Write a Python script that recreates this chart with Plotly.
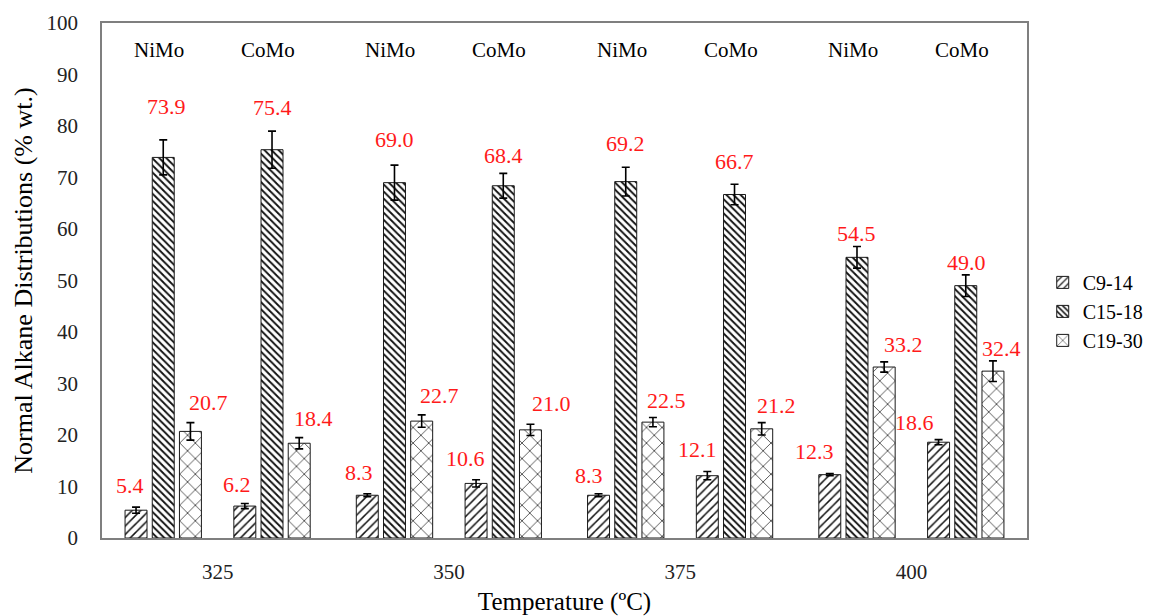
import plotly.graph_objects as go

# Reaction temperatures and catalysts
temperatures = ["325", "350", "375", "400"]
catalysts = ["NiMo", "CoMo"]
fractions = ["C9-14", "C15-18", "C19-30"]

# Mean values (% wt.), ordered 325 NiMo, 325 CoMo, 350 NiMo, 350 CoMo, ...
c9_14 = [5.4, 6.2, 8.3, 10.6, 8.3, 12.1, 12.3, 18.6]
c15_18 = [73.9, 75.4, 69.0, 68.4, 69.2, 66.7, 54.5, 49.0]
c19_30 = [20.7, 18.4, 22.7, 21.0, 22.5, 21.2, 33.2, 32.4]

# Standard deviations
c9_14_err = [0.6, 0.5, 0.3, 0.7, 0.3, 0.8, 0.2, 0.5]
c15_18_err = [3.4, 3.6, 3.4, 2.4, 2.8, 2.0, 2.1, 2.1]
c19_30_err = [1.7, 1.1, 1.2, 1.1, 0.9, 1.2, 1.0, 2.0]

# Hand placement of the value labels (pixel nudges from the bar top)
c9_14_nudge_x = [-6, -8, -8, -11, -10, -10, -15, -24]
c9_14_nudge_y = [25, 22, 23, 25, 20, 26, 23, 20]
c15_18_nudge_x = [3, 0, 0, 0, 0, 0, 0, 1]
c15_18_nudge_y = [51, 42, 43, 30, 38, 33, 24, 23]
c19_30_nudge_x = [18, 14, 18, 21, 14, 15, 19, 9]
c19_30_nudge_y = [29, 25, 26, 26, 22, 23, 23, 23]

series = [
    (fractions[0], c9_14, c9_14_err, c9_14_nudge_x, c9_14_nudge_y,
     dict(shape="/", size=6, solidity=0.25)),
    (fractions[1], c15_18, c15_18_err, c15_18_nudge_x, c15_18_nudge_y,
     dict(shape="\\", size=5, solidity=0.38)),
    (fractions[2], c19_30, c19_30_err, c19_30_nudge_x, c19_30_nudge_y,
     dict(shape="x", size=11, solidity=0.12)),
]

SERIF = "Liberation Serif, Times New Roman, serif"
slot = 0.1176      # spacing of bar slots within a temperature group
bar_w = 0.095      # bar width in axis units


def bar_x(idx, k):
    """x position of bar k (0..2) for entry idx (temperature*2 + catalyst)."""
    t, c = divmod(idx, 2)
    s = c * 4 + k
    return t + 0.5 + (s - 3) * slot


fig = go.Figure()
annotations = []

for k, (name, vals, errs, nx, ny, pat) in enumerate(series):
    xs = [bar_x(i, k) for i in range(len(vals))]
    fig.add_trace(go.Bar(
        name=name,
        legendgroup=name,
        x=xs,
        y=vals,
        width=bar_w,
        marker=dict(
            color="white",
            line=dict(color="#1a1a1a", width=1),
            pattern=dict(fgcolor="#111111", bgcolor="white",
                         fillmode="replace", **pat),
        ),
        error_y=dict(type="data", array=errs, visible=True,
                     color="black", thickness=1.6, width=4),
    ))
    for i, v in enumerate(vals):
        annotations.append(dict(
            x=xs[i], y=v, xref="x", yref="y",
            text=f"{v:.1f}", showarrow=False,
            xshift=nx[i], yshift=ny[i], yanchor="middle",
            font=dict(family=SERIF, size=22, color="#ff1a1a"),
        ))

# Catalyst names above each subgroup
for i in range(len(temperatures) * len(catalysts)):
    annotations.append(dict(
        x=bar_x(i, 1), y=94.8, xref="x", yref="y",
        text=catalysts[i % 2], showarrow=False, xshift=-4,
        yanchor="middle",
        font=dict(family=SERIF, size=21, color="black"),
    ))

fig.update_layout(
    width=1158, height=616,
    margin=dict(l=102, r=131, t=23, b=78, autoexpand=False),
    paper_bgcolor="white", plot_bgcolor="white",
    barmode="overlay",
    showlegend=True,
    legend=dict(
        x=1.017, y=0.44, xanchor="left", yanchor="middle",
        font=dict(family=SERIF, size=20, color="black"),
        bgcolor="rgba(0,0,0,0)", traceorder="normal",
        itemwidth=30, tracegroupgap=7,
    ),
    annotations=annotations,
    font=dict(family=SERIF, color="black"),
)

fig.update_xaxes(
    range=[0, 4],
    tickvals=[0.5, 1.5, 2.5, 3.5],
    ticktext=temperatures,
    ticks="", showgrid=False, zeroline=False, automargin=False,
    showline=True, mirror=True, linecolor="#7f7f7f", linewidth=1.5,
    tickfont=dict(family=SERIF, size=21, color="#222222"),
    ticklabelstandoff=14,
    title=dict(text="Temperature (ºC)", standoff=12,
               font=dict(family=SERIF, size=25, color="black")),
)

fig.update_yaxes(
    range=[0, 100], dtick=10,
    ticks="", showgrid=False, zeroline=False, automargin=False,
    showline=True, mirror=True, linecolor="#7f7f7f", linewidth=1.5,
    tickfont=dict(family=SERIF, size=21, color="#222222"),
    ticklabelstandoff=18,
    title=dict(text="Normal Alkane Distributions (% wt.)", standoff=6,
               font=dict(family=SERIF, size=26, color="black")),
)

fig.write_html("out.html")
